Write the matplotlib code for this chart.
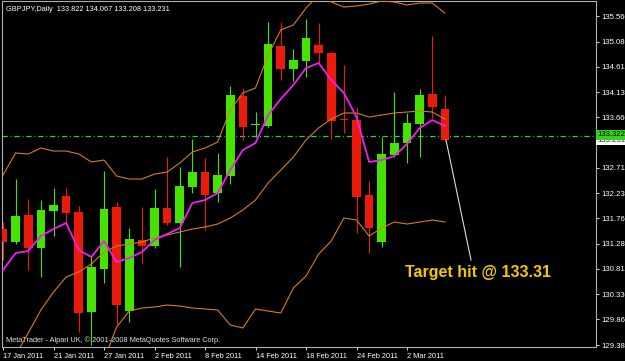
import numpy as np
import pandas as pd
import matplotlib
matplotlib.use('agg')
import matplotlib.pyplot as plt


SYMBOL = 'GBPJPY,Daily'
START = '2011-01-17'

# daily GBPJPY candles
opens = [131.559, 131.315, 131.822, 131.202, 131.897, 132.179, 131.879, 130.000,
         130.808, 131.972, 130.019, 131.353, 131.240, 131.954, 131.672, 132.348,
         132.630, 132.235, 132.555, 134.057, 133.513, 133.494, 134.997, 134.565,
         134.715, 135.015, 134.865, 133.616, 133.607, 132.198, 131.315, 132.949,
         133.175, 133.531, 134.095, 133.822]
highs = [131.691, 132.498, 132.123, 132.104, 132.329, 132.329, 131.991, 131.052,
         132.649, 132.066, 131.578, 131.972, 132.311, 132.912, 132.724, 133.250,
         132.893, 132.987, 134.245, 134.208, 133.757, 135.447, 135.447, 134.940,
         135.504, 135.429, 134.884, 134.640, 133.851, 132.461, 133.287, 134.132,
         133.738, 134.189, 135.184, 134.067]
lows = [130.977, 131.278, 130.789, 130.658, 131.428, 131.672, 129.625, 129.380,
        130.545, 129.775, 129.812, 130.921, 131.202, 131.634, 130.846, 132.235,
        131.540, 132.066, 132.404, 133.231, 133.287, 133.475, 134.358, 134.339,
        134.414, 134.677, 133.250, 133.362, 131.484, 131.108, 131.221, 132.912,
        132.799, 132.912, 133.644, 133.208]
closes = [131.315, 131.803, 131.202, 131.916, 132.010, 131.860, 129.981, 130.846,
          131.935, 130.132, 131.371, 131.240, 131.954, 131.672, 132.367, 132.630,
          132.198, 132.574, 134.076, 133.475, 133.522, 135.034, 134.565, 134.734,
          135.147, 134.865, 133.588, 133.607, 132.160, 131.578, 132.968, 133.175,
          133.550, 134.076, 133.851, 133.231]

# moving average (magenta) and the three envelope lines (orange)
ma = [130.789, 131.108, 131.146, 131.428, 131.559, 131.672, 131.165, 131.033,
      131.334, 130.939, 131.015, 131.127, 131.353, 131.465, 131.578, 132.048,
      132.104, 132.235, 132.667, 133.043, 133.175, 133.700, 134.001, 134.264,
      134.583, 134.677, 134.358, 134.114, 133.663, 132.818, 132.855, 132.930,
      133.156, 133.456, 133.607, 133.494]
upper = [132.574, 132.987, 132.968, 133.081, 133.024, 133.024, 132.968, 132.818,
         132.855, 132.555, 132.498, 132.498, 132.592, 132.630, 132.799, 133.006,
         133.081, 133.193, 133.794, 134.114, 134.208, 134.827, 135.297, 135.391,
         135.710, 135.954, 135.823, 135.729, 135.748, 135.785, 135.842, 135.823,
         135.767, 135.804, 135.804, 135.616]
middle = [128.723, 129.193, 129.606, 130.038, 130.376, 130.658, 130.752, 130.902,
          131.127, 131.240, 131.278, 131.315, 131.390, 131.447, 131.503, 131.559,
          131.597, 131.653, 131.766, 131.916, 132.104, 132.423, 132.667, 132.912,
          133.231, 133.456, 133.625, 133.738, 133.738, 133.663, 133.700, 133.738,
          133.757, 133.776, 133.757, 133.625]
lower = [None] * 8 + [
    129.099, 129.719, 130.019, 130.075, 130.094, 130.132, 130.113, 130.075,
    130.057, 130.038, 129.756, 129.700, 130.057, 130.019, 129.981, 130.451,
    130.676, 131.090, 131.334, 131.766, 131.728, 131.428, 131.578, 131.691,
    131.653, 131.691, 131.728, 131.691]

price_ticks = [135.56, 135.08, 134.61, 134.13, 133.66, 132.71, 132.23,
               131.76, 131.28, 130.81, 130.33, 129.86, 129.38]
target = 133.31
ask_label = 133.322
arrow_end = 130.977

GREEN = '#44e400'
RED = '#ec1a0a'
FONT = 'Liberation Sans'


def draw_chart():
    o = np.array(opens)
    h = np.array(highs)
    lo = np.array(lows)
    c = np.array(closes)
    x = np.arange(len(o))
    dates = pd.bdate_range(START, periods=len(o))

    fig = plt.figure(figsize=(6.25, 3.61), dpi=100, facecolor='black')
    ax = fig.add_axes([2 / 625, 14 / 361, 594 / 625, 346 / 361])
    ax.set_facecolor('black')

    up = c >= o
    cols = np.where(up, GREEN, RED)
    ax.vlines(x, lo, h, colors=cols, linewidth=0.8, zorder=2)
    body = np.maximum(np.abs(c - o), 0.018)
    ax.bar(x, body, bottom=np.minimum(o, c), width=0.68, color=cols,
           linewidth=0, zorder=3)

    lw = np.arange(len(lower))
    low_s = pd.Series(lower, dtype=float)
    ax.plot(x, upper, color='#d0801a', lw=0.8, zorder=4)
    ax.plot(x, middle, color='#d0801a', lw=0.8, zorder=4)
    ax.plot(lw, low_s, color='#d0801a', lw=0.8, zorder=4)
    ax.plot(x, ma, color='#f01ef0', lw=1.3, zorder=5)

    # target line
    ax.axhline(target, color='#1fd24a', lw=0.9, dashes=(4.3, 2.2, 0.8, 2.2),
               zorder=1)

    # pointer + label
    ax.plot([x[-1] + 0.09, x[-1] + 2.07], [c[-1], arrow_end],
            color='#dcdcdc', lw=0.8, zorder=6)
    ax.text(31.84, 130.33 + 0.32, 'Target hit @ 133.31', color='#f4c800',
            fontsize=11.5, fontweight='bold', family=FONT,
            ha='left', va='baseline', zorder=7)

    ax.set_xlim(-0.08, 46.97)
    ax.set_ylim(129.343, 135.842)

    ax.set_xticks(x[::4])
    ax.set_xticklabels(['{} {}'.format(d.day, d.strftime('%b %Y'))
                        for d in dates[::4]], ha='left')
    ax.yaxis.tick_right()
    ax.set_yticks(price_ticks)
    ax.set_yticklabels(['{:.3f}'.format(p) for p in price_ticks])
    ax.tick_params(colors='#d8d8d8', labelcolor='white', labelsize=5.6,
                   length=2.5, width=0.7, pad=1.5)
    ax.tick_params(axis='x', labelsize=5.3)
    for lab in ax.get_xticklabels() + ax.get_yticklabels():
        lab.set_family(FONT)
    for s in ax.spines.values():
        s.set_color('#b0b0b0')
        s.set_linewidth(0.8)

    # price boxes on the scale
    ax.text(1.002, 133.23, '133.231', transform=ax.get_yaxis_transform(),
            fontsize=5.6, family=FONT, color='#303030', va='center', ha='left',
            bbox=dict(boxstyle='square,pad=0.15', fc='white', ec='none'),
            clip_on=False, zorder=8)
    ax.text(1.002, 133.33, '{:.3f}'.format(ask_label),
            transform=ax.get_yaxis_transform(), fontsize=5.6, family=FONT,
            color='black', va='center', ha='left',
            bbox=dict(boxstyle='square,pad=0.2', fc='#38d020', ec='none'),
            clip_on=False, zorder=9)

    ax.text(0.007, 0.985, '{}  {:.3f} {:.3f} {:.3f} {:.3f}'.format(
        SYMBOL, o[-1], h[-1], lo[-1], c[-1]), transform=ax.transAxes,
        color='white', fontsize=5.3, family=FONT, va='top', ha='left')
    ax.text(0.006, 0.008,
            'MetaTrader - Alpari UK, \u00a9 2001-2008 MetaQuotes Software Corp.',
            transform=ax.transAxes, color='#e0e0e0', fontsize=5.3,
            family=FONT, va='bottom', ha='left')
    return fig


if __name__ == '__main__':
    fig = draw_chart()
    fig.savefig('out.png', dpi=100, facecolor='black')
